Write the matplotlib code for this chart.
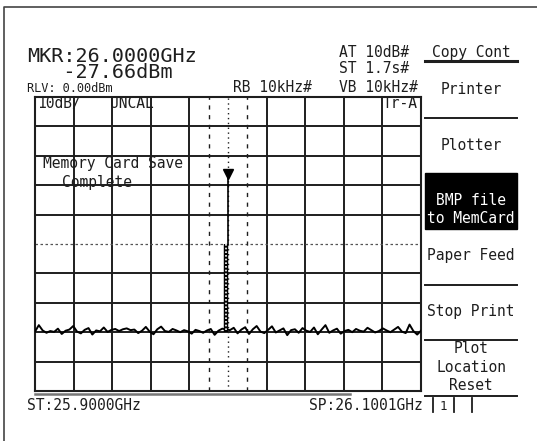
import numpy as np
import matplotlib
matplotlib.use("Agg")
import matplotlib.pyplot as plt
import matplotlib.transforms as mtransforms
from matplotlib.patches import Rectangle

# --- analyzer settings / data --------------------------------------------
f_start = 25.9000      # GHz
f_stop = 26.1001       # GHz
ref_level = 0.0        # dBm
db_per_div = 10
mkr_freq = 26.0000     # GHz
mkr_level = -27.66     # dBm
peak_level = -50.0     # dBm (displayed top of the carrier)
noise_floor = -80.0

# trace points (dBm), sweep from ST to SP
trace_levels = [
    -79.8, -77.6, -79.4, -80.2, -79.6, -79.9, -78.8, -80.6, -79.5, -79.1,
    -77.9, -79.8, -80.4, -79.2, -78.6, -80.8, -79.4, -79.7, -78.4, -79.9,
    -79.2, -78.9, -79.6, -79.0, -78.7, -79.3, -79.1, -80.3, -79.5, -78.2,
    -79.8, -80.7, -79.0, -78.1, -79.6, -79.9, -78.9, -79.4, -80.0, -79.3,
    -79.7, -80.5, -79.2, -79.6, -80.2, -79.4, -78.9, -80.9, -79.5, -78.8,
    -50.0,
    -79.3, -78.5, -80.4, -79.1, -78.3, -80.6, -79.0, -77.9, -79.8, -80.3,
    -79.2, -78.0, -80.1, -79.4, -78.7, -81.0, -79.3, -79.0, -80.2, -78.6,
    -79.5, -79.9, -78.4, -80.7, -79.1, -77.6, -80.2, -79.4, -78.8, -80.5,
    -79.6, -79.2, -80.0, -78.9, -79.5, -79.8, -78.5, -79.3, -80.1, -79.6,
    -78.7, -79.4, -80.0, -79.1, -78.2, -79.8, -80.3, -77.4, -79.6, -80.8,
    -79.5,
]

softkeys = ["Copy Cont", "Printer", "Plotter", "BMP file\nto MemCard",
            "Paper Feed", "Stop Print", "Plot\nLocation\nReset"]

MONO = "DejaVu Sans Mono"
INK = "#1e1e1e"

W, H = 537, 441
fig = plt.figure(figsize=(W / 100, H / 100), dpi=100)
fig.patch.set_facecolor("white")

# overlay in pixel coordinates for the screen furniture
ov = fig.add_axes([0, 0, 1, 1])
ov.set_xlim(0, W)
ov.set_ylim(H, 0)
ov.axis("off")

# outer frame
ov.plot([4, 4, W], [H, 7, 7], color="#444444", lw=1.2)

# =========================================================================
# graticule
# =========================================================================
gx0, gx1, gy0, gy1 = 35, 421, 97, 391
ax = fig.add_axes([gx0 / W, 1 - gy1 / H, (gx1 - gx0) / W, (gy1 - gy0) / H])
ax.set_facecolor("none")
ax.set_xlim(f_start, f_stop)
ax.set_ylim(ref_level - 10 * db_per_div, ref_level)
ax.set_xticks([])
ax.set_yticks([])
for s in ax.spines.values():
    s.set_linewidth(1.5)
    s.set_color(INK)

div_f = (f_stop - f_start) / 10
center_f = f_start + 5 * div_f
for i in range(1, 10):
    if i == 5:
        continue
    ax.axvline(f_start + i * div_f, color=INK, lw=1.4)
for i in range(1, 10):
    lvl = ref_level - i * db_per_div
    if i == 5:
        ax.axhline(lvl, color="#555555", lw=0.9, ls=(0, (2, 2)))
    else:
        ax.axhline(lvl, color=INK, lw=1.4)

# centre line (dotted) and the two display lines (dashed)
ax.axvline(center_f, color=INK, lw=1.0, ls=(0, (1, 2.5)))
for k in (-0.5, 0.5):
    ax.axvline(center_f + k * div_f, color=INK, lw=1.0, ls=(0, (3, 4)))

# noise trace (carrier point drawn separately as a vertical bar)
levels = np.array(trace_levels)
freqs = np.linspace(f_start, f_stop, len(levels))
floor = levels < -70
ax.plot(freqs[floor], levels[floor], color="black", lw=1.4, zorder=4)

# carrier: ladder-looking vertical bar
pk = np.argmax(levels)
ax.plot([freqs[pk], freqs[pk]], [levels[pk], noise_floor], color="black",
        lw=3.2, zorder=5, solid_capstyle="butt")
ax.plot([freqs[pk], freqs[pk]], [levels[pk], noise_floor], color="white",
        lw=1.2, ls=(0, (1, 1.2)), zorder=6)

# marker line and triangle
ax.plot([mkr_freq, mkr_freq], [mkr_level, peak_level], color="black",
        lw=1.2, zorder=5)
tri = mtransforms.offset_copy(ax.transData, fig=fig, y=3.2, units="points")
ax.plot([mkr_freq], [mkr_level], marker="v", ms=7, color="black",
        transform=tri, zorder=6, clip_on=False)

# sweep progress bar below the graticule
ov.plot([35, 350], [393.5, 393.5], color="#777777", lw=1.8)

# =========================================================================
# annotations
# =========================================================================
small = dict(family=MONO, fontsize=10.5, color=INK, va="baseline")
tiny = dict(family=MONO, fontsize=8.6, color=INK, va="baseline")

ov.text(27, 78, "MKR:26.0000GHz\n   -27.66dBm", family=MONO, fontsize=14.5,
        color=INK, va="baseline", linespacing=0.78)
ov.text(27, 92, "RLV: 0.00dBm", **tiny)
ov.text(233, 92, "RB 10kHz#", **small)
ov.text(339, 57, "AT 10dB#", **small)
ov.text(339, 73, "ST 1.7s#", **small)
ov.text(339, 92, "VB 10kHz#", **small)

ov.text(37, 108, "10dB/", **small)
ov.text(110, 108, "UNCAL", **small)
ov.text(383, 108, "Tr-A", **small)
ov.text(43, 168, "Memory Card Save", **small)
ov.text(62, 187, "Complete", **small)

ov.text(27, 410, "ST:25.9000GHz", **small)
ov.text(423, 410, "SP:26.1001GHz", ha="right", **small)

# =========================================================================
# softkey panel
# =========================================================================
kx0, kx1 = 425, 517
kc = (kx0 + kx1) / 2
ov.add_patch(Rectangle((kx0, 173), kx1 - kx0, 56, color="black"))
ov.plot([kx0, kx1], [61, 61], color=INK, lw=2.2)
for yy in (118, 285, 340, 396):
    ov.plot([kx0, kx1], [yy, yy], color=INK, lw=1.4)

key = dict(family=MONO, fontsize=10.5, ha="center", va="baseline")
ov.text(kc, 57, softkeys[0], color=INK, **key)
ov.text(kc, 94, softkeys[1], color=INK, **key)
ov.text(kc, 150, softkeys[2], color=INK, **key)
bmp = softkeys[3].split("\n")
ov.text(kc, 205, bmp[0], color="white", **key)
ov.text(kc, 223, bmp[1], color="white", **key)
ov.text(kc, 260, softkeys[4], color=INK, **key)
ov.text(kc, 316, softkeys[5], color=INK, **key)
plot_loc = softkeys[6].split("\n")
for line, yy in zip(plot_loc, (353, 372, 390)):
    ov.text(kc, yy, line, color=INK, **key)

# trace-memory indicator
for xx in (433, 454, 472):
    ov.plot([xx, xx], [398, 412], color=INK, lw=1.3)
ov.text(443.5, 410, "1", ha="center", family=MONO, fontsize=9, color=INK,
        va="baseline")

fig.savefig("out.png", dpi=100, facecolor="white")
